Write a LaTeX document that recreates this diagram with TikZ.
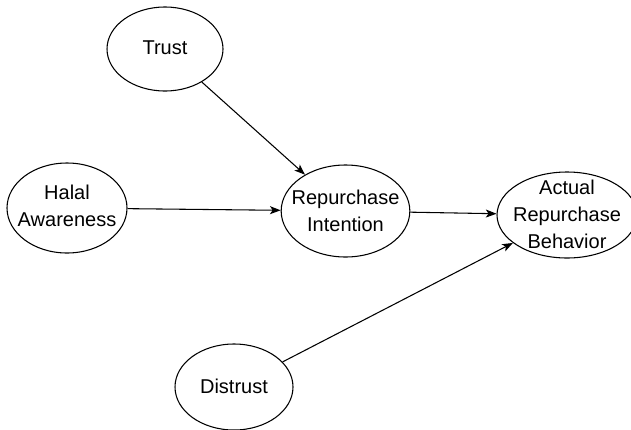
\documentclass[tikz,border=0pt]{standalone}
\usepackage{fontspec}
\setmainfont{Liberation Sans}
\usetikzlibrary{shapes.geometric,arrows.meta}
\begin{document}
\begin{tikzpicture}[x=0.75pt,y=-0.75pt,
  ell/.style={draw, ellipse, line width=0.8pt, inner sep=0pt},
  lbl/.style={align=center, font=\fontsize{15}{20.3}\selectfont, inner sep=0pt},
  conn/.style={-{Stealth[length=8pt,width=6pt,inset=2pt]}, line width=0.8pt}]
\path[use as bounding box] (0,0) rectangle (631,429);
\clip (0,0) rectangle (631,429);
\node[ell, minimum width=87pt, minimum height=63pt] (trust) at (165,49) {};
\node[ell, minimum width=90pt, minimum height=67.5pt] (halal) at (67,208) {};
\node[ell, minimum width=96.5pt, minimum height=69pt] (ri) at (345.5,211) {};
\node[ell, minimum width=105pt, minimum height=64.5pt] (arb) at (567,215) {};
\node[ell, minimum width=88.5pt, minimum height=64.5pt] (dis) at (234,387) {};
\node[lbl] (trustT) at (165,48) {Trust};
\node[lbl] (halalT) at (67,206) {Halal\\Awareness};
\node[lbl] (riT) at (345.5,211) {Repurchase\\Intention};
\node[lbl] (arbT) at (567,214) {Actual\\Repurchase\\Behavior};
\node[lbl] (disT) at (234,386) {Distrust};
\draw[conn] (trust) -- (ri);
\draw[conn] (halal) -- (ri);
\draw[conn] (ri) -- (arb);
\draw[conn] (dis) -- (arb);
\end{tikzpicture}
\end{document}
